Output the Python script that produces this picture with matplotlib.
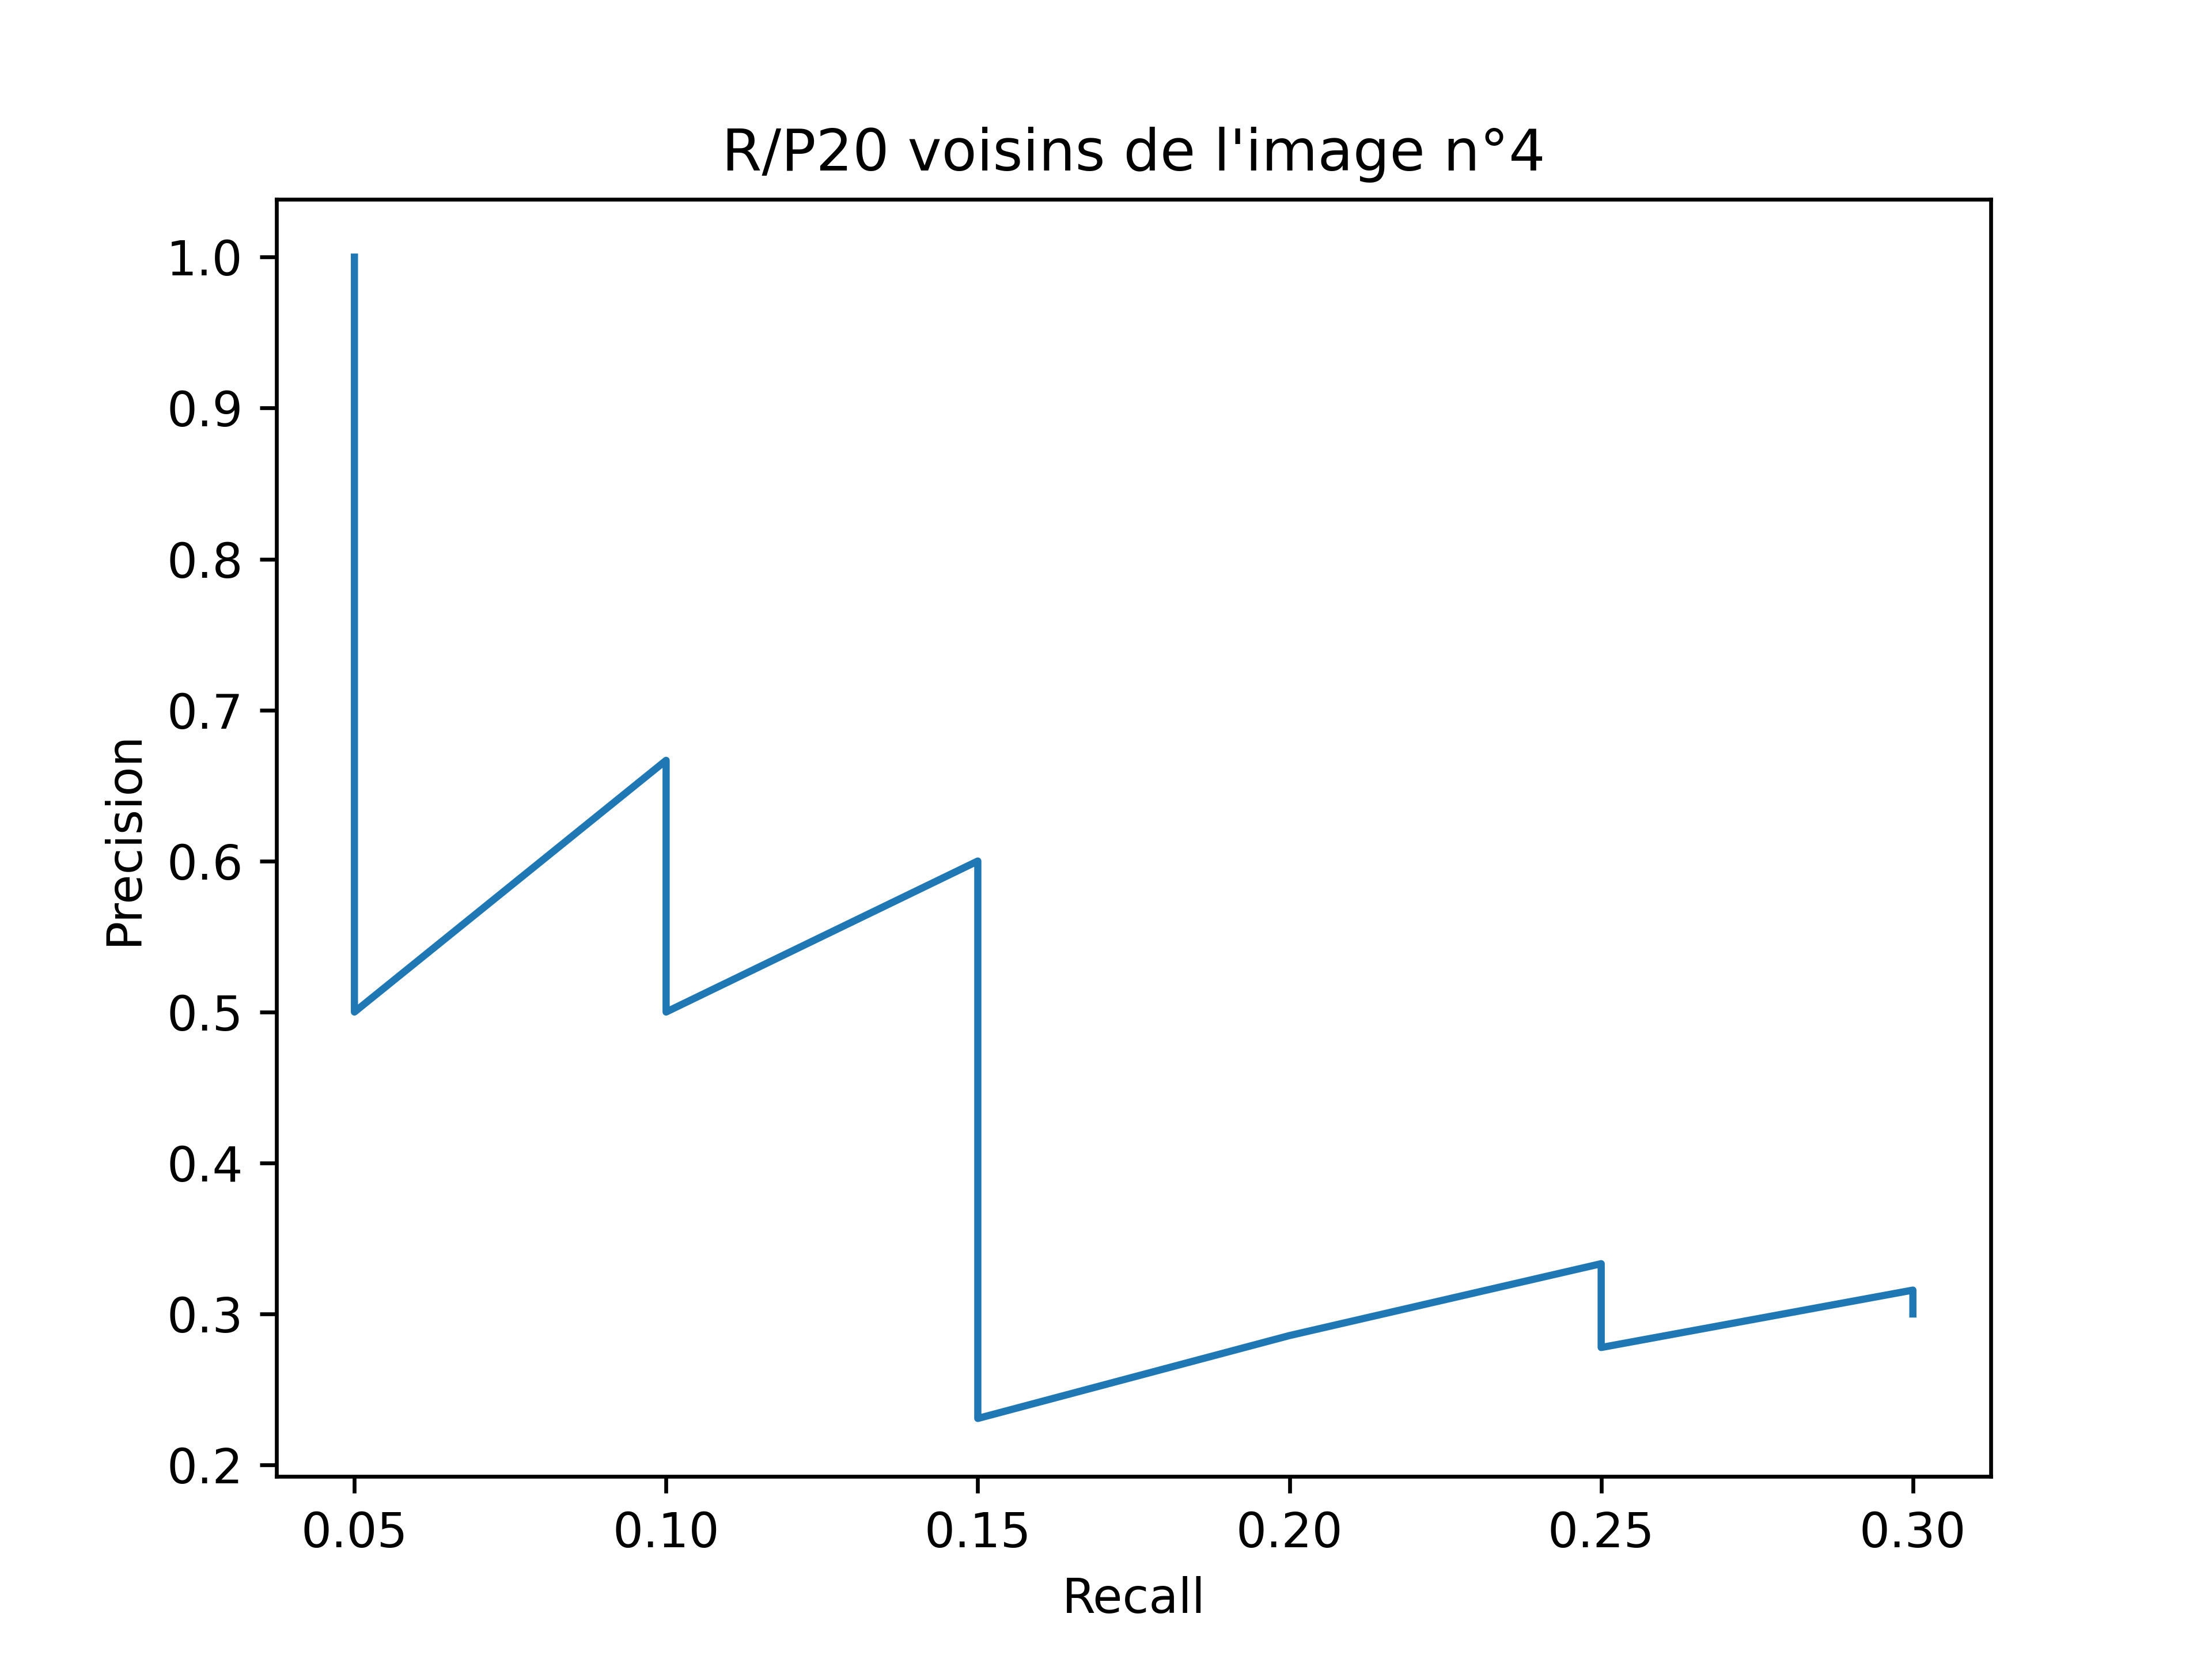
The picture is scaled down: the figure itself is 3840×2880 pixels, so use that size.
import matplotlib
matplotlib.use("Agg")
import matplotlib.pyplot as plt

recall = [0.05, 0.05, 0.10, 0.10, 0.15, 0.15, 0.15, 0.15, 0.15, 0.15, 0.15, 0.15, 0.15,
          0.20, 0.25, 0.25, 0.25, 0.25, 0.30, 0.30]
precision = [1.0, 0.5, 0.6667, 0.5, 0.6, 0.5, 0.4286, 0.375, 0.3333, 0.3, 0.2727, 0.25, 0.2308,
             0.2857, 0.3333, 0.3125, 0.2941, 0.2778, 0.3158, 0.3]

fig, ax = plt.subplots(figsize=(6.4, 4.8), dpi=600)
ax.plot(recall, precision)
ax.set_title("R/P20 voisins de l'image n°4")
ax.set_xlabel("Recall")
ax.set_ylabel("Precision")
fig.savefig("out.png")
